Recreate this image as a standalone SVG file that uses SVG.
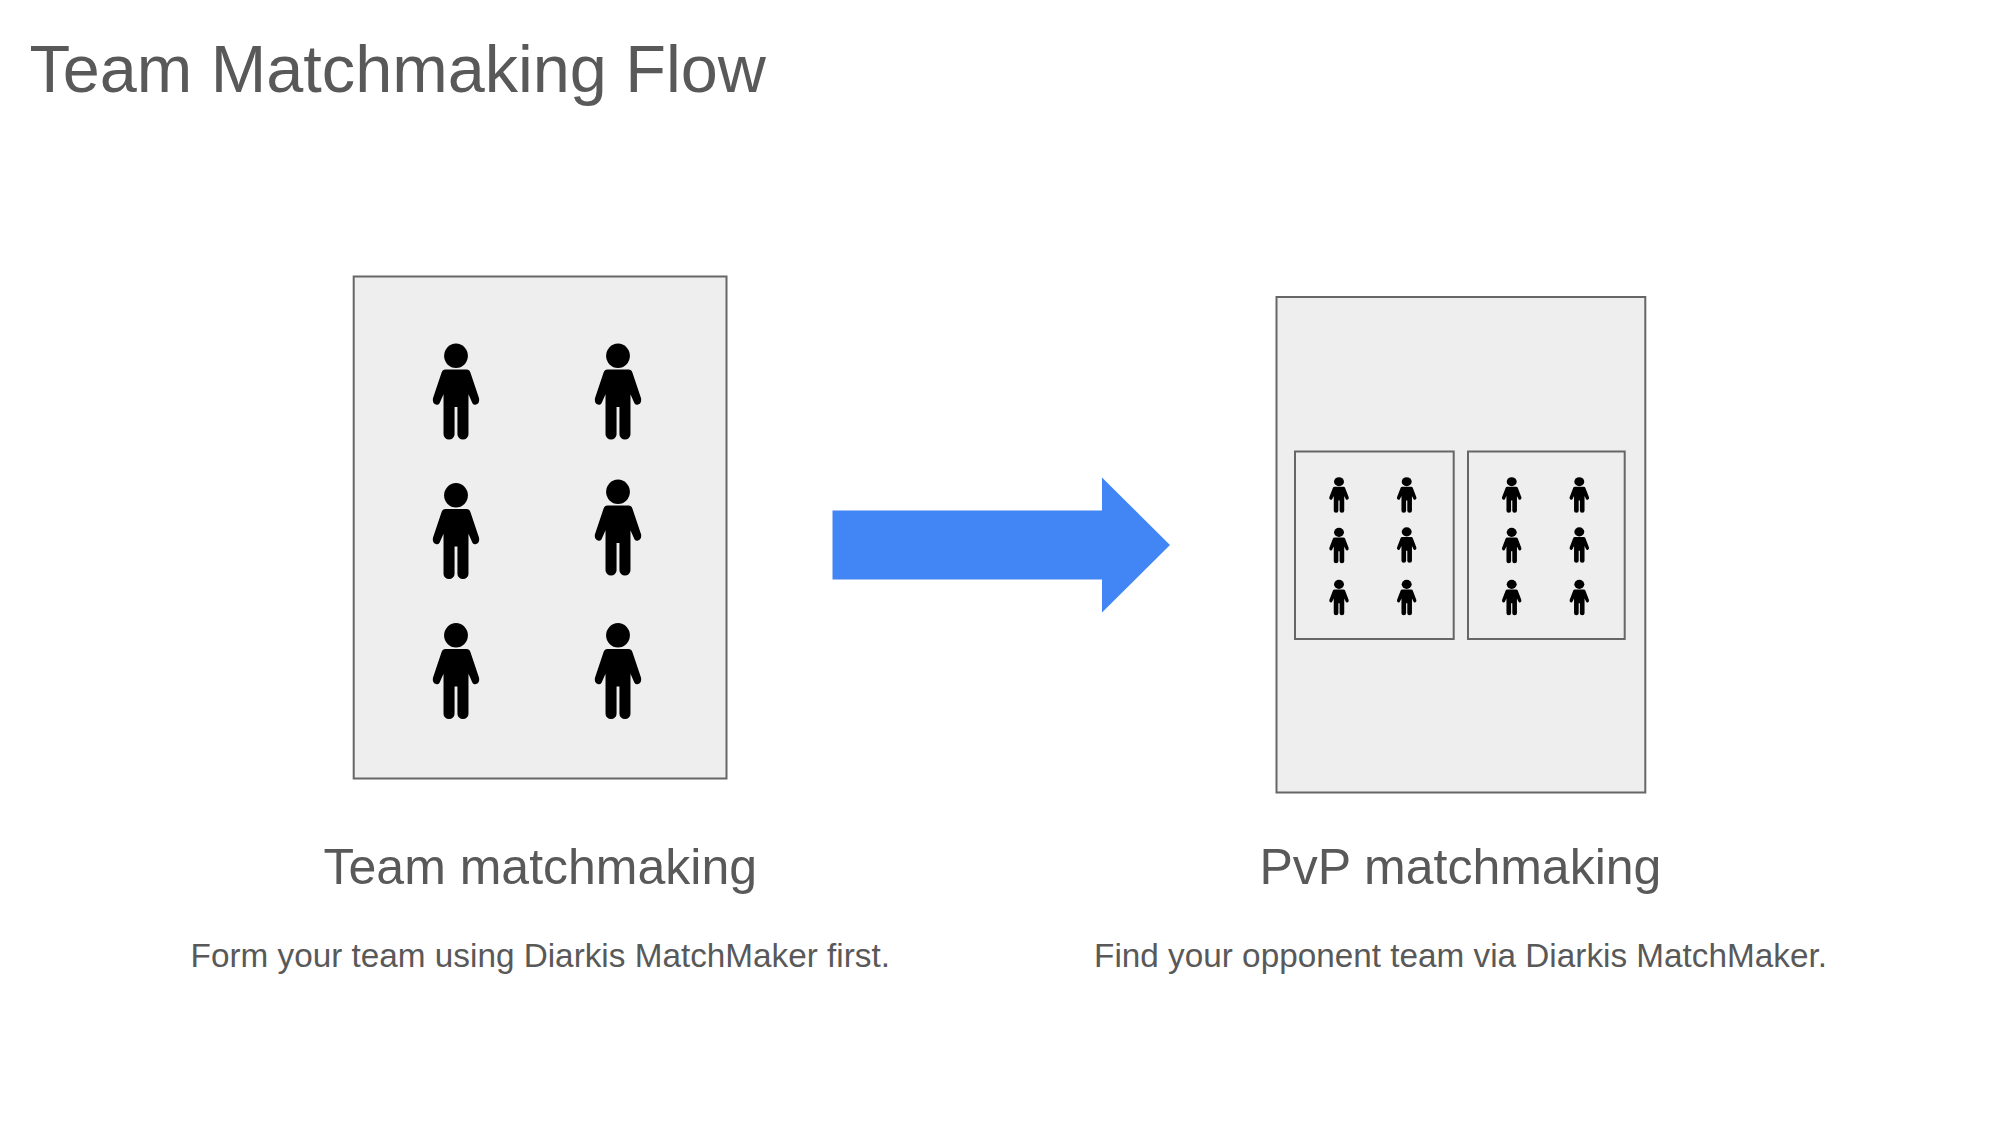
<svg xmlns="http://www.w3.org/2000/svg" width="2000" height="1125" viewBox="0 0 2000 1125">
<style>
text{font-family:"Liberation Sans",Arial,sans-serif;fill:#595959}
.c{text-anchor:middle}
.h{font-size:50px}
.s{font-size:33.3px}
.box{fill:#eeeeee;stroke:#666666;stroke-width:2}
</style>
<defs>
<g id="p" transform="scale(.96 .985)">
<circle cx="0" cy="12" r="12.400"/>
<path d="M-11 26H11Q14 26 15 29L24 55Q25 60 21 61.500Q18 62.500 17 60L13 51V91.500A5.700 5.500 0 0 1 1.500 91.500V64H-1.500V91.500A5.700 5.500 0 0 1 -13 91.500V51L-17 60Q-18 62.500 -21 61.500Q-25 60 -24 55L-15 29Q-14 26 -11 26Z"/>
</g>
</defs>
<rect width="2000" height="1125" fill="#ffffff"/>
<text id="title" x="29.500" y="92" font-size="66.600">Team Matchmaking Flow</text>
<g id="team-box">
<rect class="box" x="353.700" y="276.500" width="372.800" height="502"/>
<use href="#p" x="456" y="344"/>
<use href="#p" x="618" y="344"/>
<use href="#p" x="456" y="483.500"/>
<use href="#p" x="618" y="480"/>
<use href="#p" x="456" y="623.500"/>
<use href="#p" x="618" y="623.500"/>
<text class="c h" x="540.300" y="884">Team matchmaking</text>
<text class="c s" x="540.300" y="966.500">Form your team using Diarkis MatchMaker first.</text>
</g>
<g id="pvp-box">
<rect class="box" x="1276.500" y="297" width="368.800" height="495.500"/>
<g id="team-a">
<rect class="box" x="1295" y="451.500" width="158.700" height="187.500"/>
<use href="#p" transform="translate(1339 477.300) scale(.42 .37)"/>
<use href="#p" transform="translate(1406.700 477.300) scale(.42 .37)"/>
<use href="#p" transform="translate(1339 528) scale(.42 .37)"/>
<use href="#p" transform="translate(1406.700 527.500) scale(.42 .37)"/>
<use href="#p" transform="translate(1339 580) scale(.42 .37)"/>
<use href="#p" transform="translate(1406.700 580) scale(.42 .37)"/>
</g>
<g id="team-b">
<rect class="box" x="1468" y="451.500" width="156.700" height="187.500"/>
<use href="#p" transform="translate(1511.700 477.300) scale(.42 .37)"/>
<use href="#p" transform="translate(1579.300 477.300) scale(.42 .37)"/>
<use href="#p" transform="translate(1511.700 528) scale(.42 .37)"/>
<use href="#p" transform="translate(1579.300 527.500) scale(.42 .37)"/>
<use href="#p" transform="translate(1511.700 580) scale(.42 .37)"/>
<use href="#p" transform="translate(1579.300 580) scale(.42 .37)"/>
</g>
<text class="c h" x="1460.400" y="884">PvP matchmaking</text>
<text class="c s" x="1460.500" y="966.500">Find your opponent team via Diarkis MatchMaker.</text>
</g>
<g id="connectors">
<path d="M832.500 510.500H1102V477.500L1170 545L1102 612.500V579.500H832.500Z" fill="#4285f4"/>
</g>
</svg>
